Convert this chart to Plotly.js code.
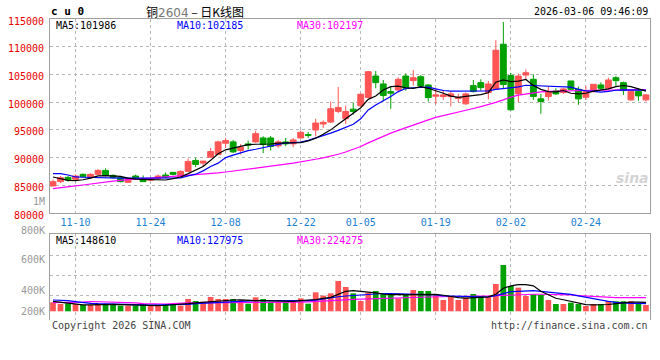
<!DOCTYPE html>
<html><head><meta charset="utf-8">
<script src="https://cdn.plot.ly/plotly-3.0.1.min.js"></script>
<style>html,body{margin:0;padding:0;background:#fff}#chart{width:660px;height:360px}</style>
</head><body><div id="chart"></div>
<script>
const dates = [
"2025-11-05","2025-11-06","2025-11-07","2025-11-10","2025-11-11","2025-11-12","2025-11-13","2025-11-14","2025-11-17","2025-11-18",
"2025-11-19","2025-11-20","2025-11-21","2025-11-24","2025-11-25","2025-11-26","2025-11-27","2025-11-28","2025-12-01","2025-12-02",
"2025-12-03","2025-12-04","2025-12-05","2025-12-08","2025-12-09","2025-12-10","2025-12-11","2025-12-12","2025-12-15","2025-12-16",
"2025-12-17","2025-12-18","2025-12-19","2025-12-22","2025-12-23","2025-12-24","2025-12-25","2025-12-26","2025-12-29","2025-12-30",
"2025-12-31","2026-01-05","2026-01-06","2026-01-07","2026-01-08","2026-01-09","2026-01-12","2026-01-13","2026-01-14","2026-01-15",
"2026-01-16","2026-01-19","2026-01-20","2026-01-21","2026-01-22","2026-01-23","2026-01-26","2026-01-27","2026-01-28","2026-01-29",
"2026-01-30","2026-02-02","2026-02-03","2026-02-04","2026-02-05","2026-02-06","2026-02-09","2026-02-10","2026-02-11","2026-02-12",
"2026-02-13","2026-02-24","2026-02-25","2026-02-26","2026-02-27","2026-03-02","2026-03-03","2026-03-04","2026-03-05","2026-03-06"];

const openP = [84880,85660,86430,86080,86970,86490,86970,87690,86790,86370,
85540,86670,86080,85900,86200,86850,87330,86610,87510,89480,
89000,90080,90560,92590,92830,91270,92470,92830,93540,93540,
92110,92830,92470,93540,94140,94980,96050,96410,98320,97010,
98740,99340,100830,104710,103280,101910,102200,104710,103880,104590,
103100,101070,101010,101010,100650,99700,102980,103520,101730,102380,
110450,104800,101490,104890,104120,100590,101010,102020,101730,103820,
102320,100890,101910,103100,102500,104410,103520,100410,101910,100410];
const highP = [86020,86670,86670,86970,87150,87150,87930,88050,86970,86610,
86370,86910,86790,86370,86970,87330,87330,87690,89840,89960,
89420,91750,93070,93540,93180,92470,93070,94860,93840,93900,
93180,93540,93540,94860,94620,97010,96710,100110,102740,99400,
99930,101610,105610,105610,104000,102800,104470,105190,105790,104890,
103220,102380,102200,101910,101490,101730,104000,104120,103820,111160,
114450,105300,105190,105910,105010,101490,102800,102500,102500,103820,
102800,102920,103220,103580,104410,104710,103700,101910,102500,101490];
const lowP = [84800,85420,85660,85900,86490,86430,86850,86610,86260,85540,
85420,86140,85660,85780,86020,86260,86790,86490,87390,88290,
88460,89960,90440,91750,90800,90560,91450,92650,90800,91270,
91750,92050,91870,93420,93540,93840,95330,96230,98020,96050,
97720,99220,100710,102500,100110,98800,101730,102080,102980,102680,
100110,99640,100410,99220,99930,99460,101730,102080,100530,102200,
102500,98500,100000,104000,100410,97900,100290,101310,101490,102200,
99520,100410,101730,102080,102200,102920,101310,100230,100230,100110];
const closeP = [85660,86370,85960,86670,86610,86970,87690,86790,86370,85660,
86200,86370,85660,86200,86670,86430,86970,87510,89300,88760,
89360,91090,92830,93070,91030,91870,92230,94320,92350,91990,
92830,92470,93180,94560,94020,96230,96350,98800,99040,98320,
98320,101430,105490,103520,101190,101610,104120,102500,104410,102920,
100830,101310,101310,101490,100890,101490,101910,102620,103280,109370,
103200,98620,104710,105310,101010,100110,101910,101490,102380,102320,
100590,101910,103220,102500,104000,103880,102080,101910,101130,101310];

const ma5 = [86500,86200,85900,85850,86000,86300,86700,86750,86700,86600,
86300,86100,86050,86000,85950,85950,86200,86500,87100,87800,
88400,89500,90700,91400,91750,92050,92350,92400,92400,92450,
92600,92650,92600,92700,93000,93500,94200,95000,96000,97000,
98000,99000,100500,101100,102200,102800,102900,102600,102500,102800,
102500,102100,101600,101100,100850,101050,101200,101350,101700,103600,
104000,103700,103800,104100,103000,102300,101900,101850,102100,101600,
101500,101600,102000,102200,102400,102800,103000,102800,102400,101986];
const ma10 = [87100,87100,86850,86500,86450,86400,86350,86350,86350,86300,
86300,86300,86300,86250,86250,86250,86300,86350,86700,87000,
87600,88400,89000,90000,90450,90900,91250,91500,91800,92150,
92450,92650,92700,92800,93100,93500,93900,94400,94900,95450,
96000,97000,98600,99500,100200,101000,101900,102450,102600,102650,
102700,102400,102100,102000,102000,102000,102000,102000,102050,102300,
102450,102500,102750,103050,103000,103000,102950,102900,102850,102700,
102300,102050,101950,101800,101950,102150,102200,102200,102200,102185];
const ma30 = [84400,84600,84750,84900,85050,85250,85450,85600,85750,85900,
86050,86150,86230,86300,86400,86490,86570,86640,86770,86900,
87000,87100,87250,87400,87560,87720,87880,88040,88200,88400,
88600,88800,89000,89200,89450,89700,89950,90250,90600,91000,
91450,92000,92650,93250,93850,94400,94900,95400,95900,96350,
96800,97250,97550,97900,98200,98550,98850,99200,99550,99950,
100400,100900,101250,101450,101700,101850,101950,102000,102050,102050,
102100,102100,102150,102150,102200,102200,102200,102200,102200,102197];

const volume = [148000,120000,131000,120000,104000,104000,120000,120000,104000,93000,
93000,93000,115000,93000,93000,120000,120000,93000,203000,170000,
159000,236000,203000,203000,203000,186000,126000,231000,203000,159000,
159000,159000,159000,214000,126000,313000,258000,296000,500000,401000,
296000,170000,307000,335000,296000,269000,214000,280000,351000,335000,
335000,258000,186000,236000,186000,225000,285000,252000,236000,450000,
764000,417000,390000,252000,280000,269000,186000,120000,120000,142000,
120000,88000,120000,120000,170000,166000,166000,166000,142000,104000];
const volMa5 = [165000,150000,128000,115000,105000,105000,110000,115000,115000,110000,
105000,98000,95000,93000,95000,100000,105000,110000,125000,140000,
150000,165000,175000,180000,186000,190000,180000,175000,175000,170000,
165000,160000,165000,175000,180000,195000,212000,230000,280000,330000,
340000,330000,325000,305000,285000,275000,278000,270000,275000,280000,
285000,280000,265000,245000,225000,218000,224000,235000,238000,280000,
380000,420000,440000,440000,420000,330000,275000,215000,190000,160000,
130000,110000,105000,105000,112000,125000,140000,150000,152000,148610];
const volMa10 = [186000,184000,175000,160000,140000,132000,125000,120000,118000,115000,
110000,108000,106000,104000,104000,106000,108000,110000,115000,125000,
132000,142000,150000,158000,165000,170000,172000,175000,178000,178000,
175000,170000,168000,170000,175000,185000,205000,225000,240000,252000,
262000,269000,280000,292000,294000,292000,288000,285000,283000,281000,
280000,270000,255000,250000,245000,242000,240000,238000,236000,260000,
296000,324000,330000,336000,340000,330000,318000,307000,295000,280000,
255000,230000,210000,190000,165000,148000,133000,130000,130000,127975];
const volMa30 = [142000,142000,142000,142000,150000,162000,160000,150000,148000,148000,
148000,140000,125000,120000,120000,120000,125000,138000,140000,140000,
140000,140000,140000,140000,140000,140000,140000,140000,140000,140000,
142000,145000,148000,150000,155000,160000,165000,170000,180000,190000,
198000,203000,206000,209000,212000,214000,219000,224000,228000,232000,
236000,240000,244000,248000,252000,252000,252000,252000,252000,258000,
265000,272000,278000,280000,281000,281000,281000,281000,280000,270000,
258000,250000,243000,236000,230000,227000,226000,225000,225000,224275];

const tickDates = ["2025-11-10","2025-11-24","2025-12-08","2025-12-22","2026-01-05","2026-01-19","2026-02-02","2026-02-24"];
const tickLabels = ["11-10","11-24","12-08","12-22","01-05","01-19","02-02","02-24"];
const priceTicks = [80000,85000,90000,95000,100000,105000,110000,115000];
const volLabels = ["1M","800K","600K","400K","200K"];

const MONO = "DejaVu Sans Mono, Liberation Mono, monospace";
const UP = "#ff5555", DOWN = "#00a000";
const last = a => a[a.length - 1];

// pixel helpers for the fixed text layer (plot area 50..650 x 19..320)
const L = 50, R = 650, T = 19, B = 320;
const px = x => (x - L) / (R - L);
const py = y => (B - y) / (B - T);

const traces = [
  {type:"candlestick", x:dates, open:openP, high:highP, low:lowP, close:closeP,
   xaxis:"x", yaxis:"y", whiskerwidth:0, hoverinfo:"skip", showlegend:false,
   increasing:{line:{color:UP, width:1}, fillcolor:UP},
   decreasing:{line:{color:DOWN, width:1}, fillcolor:DOWN}},
  {type:"scatter", mode:"lines", x:dates, y:ma30, xaxis:"x", yaxis:"y", line:{color:"#ff00ff", width:1.2}, hoverinfo:"skip", showlegend:false},
  {type:"scatter", mode:"lines", x:dates, y:ma10, xaxis:"x", yaxis:"y", line:{color:"#0000ff", width:1.2}, hoverinfo:"skip", showlegend:false},
  {type:"scatter", mode:"lines", x:dates, y:ma5, xaxis:"x", yaxis:"y", line:{color:"#000000", width:1.2}, hoverinfo:"skip", showlegend:false},
  {type:"bar", x:dates, y:volume, xaxis:"x2", yaxis:"y2", width:0.76,
   marker:{color:closeP.map((c, i) => c >= openP[i] ? UP : DOWN), line:{width:0}}, hoverinfo:"skip", showlegend:false},
  {type:"scatter", mode:"lines", x:dates, y:volMa30, xaxis:"x2", yaxis:"y2", line:{color:"#ff00ff", width:1.2}, hoverinfo:"skip", showlegend:false},
  {type:"scatter", mode:"lines", x:dates, y:volMa10, xaxis:"x2", yaxis:"y2", line:{color:"#0000ff", width:1.2}, hoverinfo:"skip", showlegend:false},
  {type:"scatter", mode:"lines", x:dates, y:volMa5, xaxis:"x2", yaxis:"y2", line:{color:"#000000", width:1.2}, hoverinfo:"skip", showlegend:false}
];

const gridStyle = {showgrid:true, gridcolor:"#b8b8b8", griddash:"dot", gridwidth:1};
const lineStyle = {showline:true, linecolor:"#a0a0a0", linewidth:1};

const ann = (text, x, y, xanchor, font) => ({text, x:px(x), y:py(y), xref:"paper", yref:"paper",
  xanchor, yanchor:"middle", showarrow:false, font});

const annotations = [
  ann("<b>c u 0</b>", 49, 12, "left", {family:MONO, size:11, color:"#000"}),
  ann('铜<span style="color:#777;font-family:DejaVu Sans">2604</span> – 日K线图', 195, 11, "center", {family:"Noto Sans CJK SC", size:12, color:"#000"}),
  ann("2026-03-06 09:46:09", 650, 12, "right", {family:MONO, size:10, color:"#000"}),
  ann("MA5:" + last(ma5), 54, 25, "left", {family:MONO, size:10, color:"#000"}),
  ann("MA10:" + last(ma10), 175, 25, "left", {family:MONO, size:10, color:"#0000ff"}),
  ann("MA30:" + last(ma30), 295, 25, "left", {family:MONO, size:10, color:"#ff00ff"}),
  ann("MA5:" + last(volMa5), 54, 240, "left", {family:MONO, size:10, color:"#000"}),
  ann("MA10:" + last(volMa10), 175, 240, "left", {family:MONO, size:10, color:"#0000ff"}),
  ann("MA30:" + last(volMa30), 295, 240, "left", {family:MONO, size:10, color:"#ff00ff"}),
  ann("Copyright 2026 SINA.COM", 50, 325, "left", {family:MONO, size:10, color:"#444"}),
  ann("http://finance.sina.com.cn", 650, 325, "right", {family:MONO, size:10, color:"#444"}),
  ann("<b><i>sina</i></b>", 632, 178, "center", {family:"DejaVu Sans", size:14, color:"#d4d4d4"})
];
const volLabelY = [201, 230, 259.5, 290.5, 311.3];
volLabels.forEach((t, i) => annotations.push(ann(t, 47, volLabelY[i], "right", {family:MONO, size:10, color:"#999"})));

const layout = {
  width:660, height:360,
  margin:{l:L, r:660 - R, t:T, b:360 - B},
  paper_bgcolor:"#fff", plot_bgcolor:"#fff",
  showlegend:false, boxgap:0.22, boxgroupgap:0,
  xaxis:Object.assign({type:"category", anchor:"y", domain:[0,1], range:[-0.4, 79.54],
    tickmode:"array", tickvals:tickDates, ticktext:tickLabels, ticks:"",
    tickfont:{family:MONO, size:10, color:"#1e82d2"}, ticklabelstandoff:0,
    rangeslider:{visible:false}, mirror:true, fixedrange:true}, gridStyle, lineStyle),
  yaxis:Object.assign({anchor:"x", domain:[py(213), 1], range:[80000, 115000],
    tickmode:"array", tickvals:priceTicks, ticktext:priceTicks.map(String), ticks:"",
    tickfont:{family:MONO, size:10, color:"#e60000"}, ticklabelstandoff:3, ticklabelshift:2,
    zeroline:false, mirror:true, fixedrange:true}, gridStyle, lineStyle),
  xaxis2:Object.assign({type:"category", anchor:"y2", domain:[0,1], range:[-0.4, 79.54],
    tickmode:"array", tickvals:tickDates, showticklabels:false, ticks:"", side:"top",
    fixedrange:true}, gridStyle, lineStyle),
  yaxis2:Object.assign({anchor:"x2", domain:[0, py(234)], range:[-143500, 1275000],
    tickmode:"array", tickvals:[257000, 587000, 917000], showticklabels:false, ticks:"",
    zeroline:false, mirror:true, fixedrange:true}, gridStyle, lineStyle),
  annotations
};

Plotly.newPlot("chart", traces, layout, {staticPlot:true, displayModeBar:false});
</script>
</body></html>
